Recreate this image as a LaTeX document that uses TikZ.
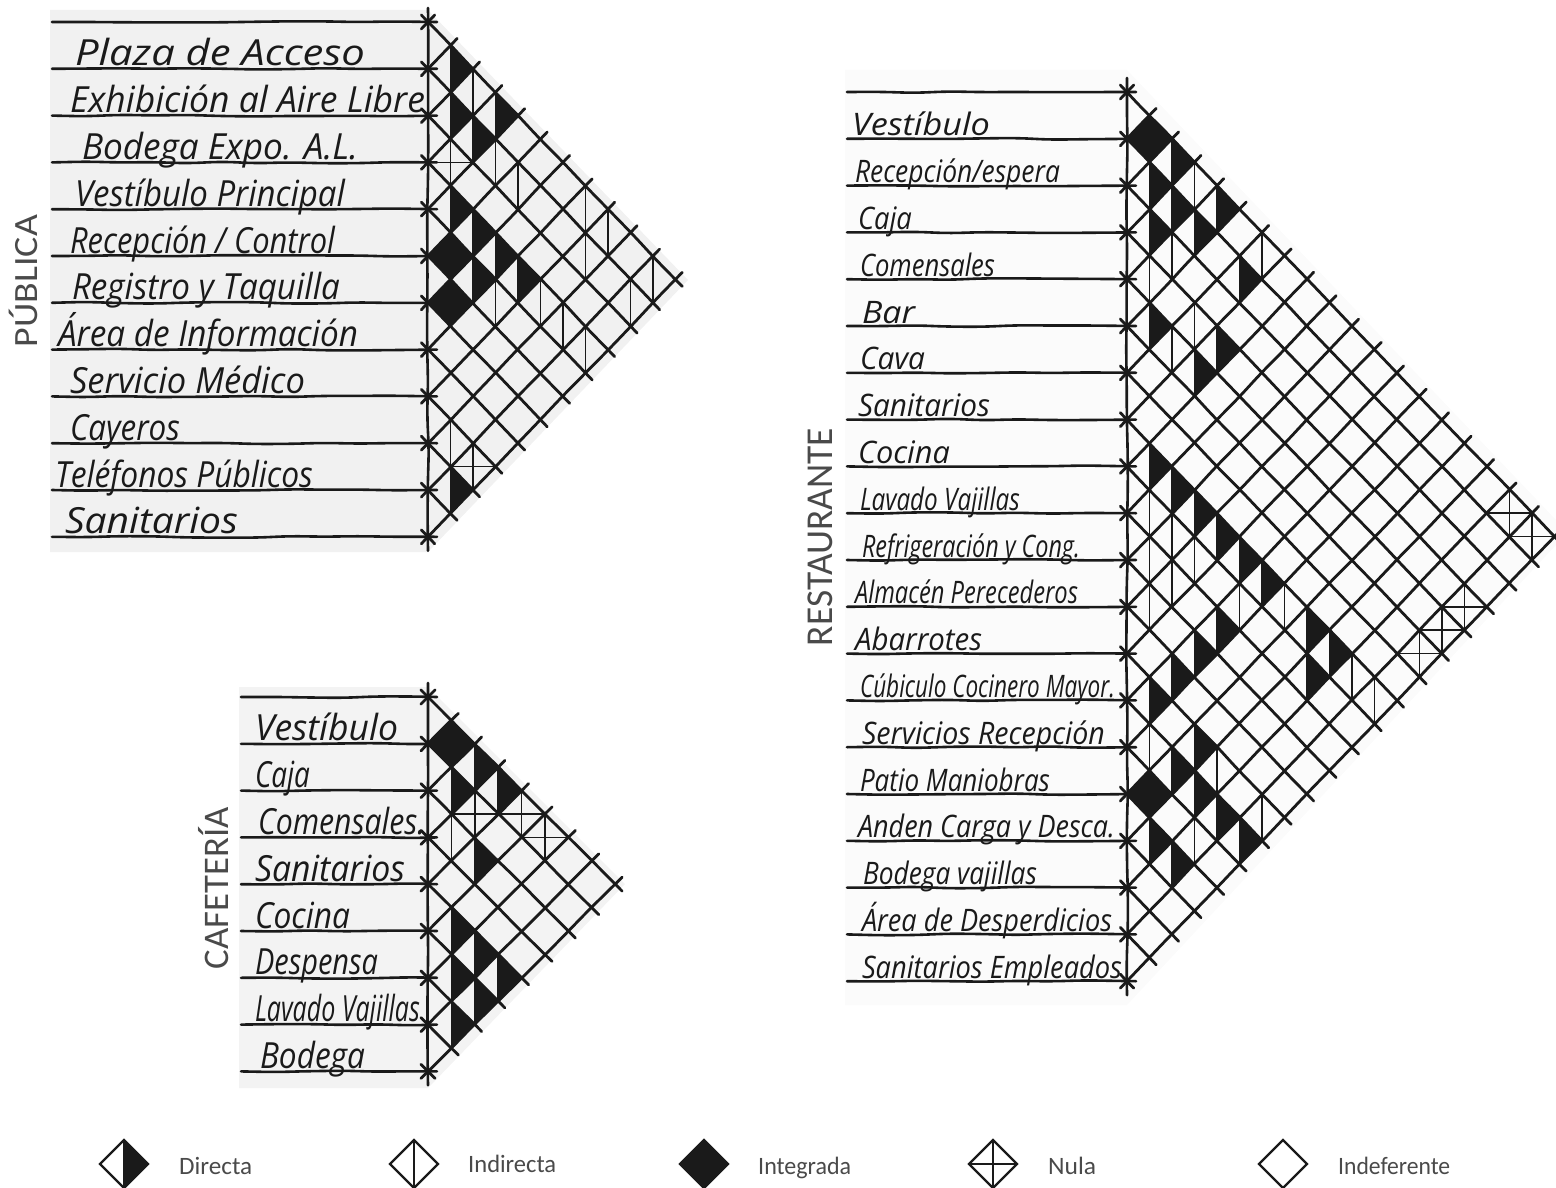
\documentclass[tikz,border=0pt]{standalone}
\usepackage{graphicx}
\usepackage{fontspec}
\usetikzlibrary{decorations.pathmorphing}
\setmainfont{Carlito}
\newfontfamily\hwfont{Open Sans}[ItalicFont=* Italic]
\definecolor{ink}{HTML}{1A1A1A}
\definecolor{sidegray}{HTML}{4A4A4A}
\definecolor{paperA}{HTML}{F1F1F1}
\definecolor{paperB}{HTML}{F3F3F3}
\definecolor{paperC}{HTML}{FBFBFB}
\tikzset{
  wob/.style={decorate,decoration={random steps,segment length=34pt,amplitude=#1},rounded corners=12pt},
  rowline/.style={draw=ink,line width=2.6pt,line cap=round,wob=0.9pt},
  gridline/.style={draw=ink,line width=2.8pt,line cap=round,wob=0.5pt},
  axisline/.style={draw=ink,line width=2.6pt,line cap=round,wob=0.9pt},
  cellline/.style={draw=ink,line width=1.5pt},
  hwtext/.style={inner sep=0pt,outer sep=0pt,anchor=base west,text=ink,font=\hwfont\itshape\fontsize{\hwsize}{\hwsize}\selectfont},
  sidelabel/.style={inner sep=0pt,outer sep=0pt,anchor=base,rotate=90,text=sidegray,font=\fontsize{#1}{#1}\selectfont},
  legendtext/.style={inner sep=0pt,anchor=base west,text=sidegray,font=\fontsize{25}{25}\selectfont},
  legendshape/.style={draw=ink,line width=2.2pt,line join=miter}
}
\def\setm#1#2#3#4{\def\mX{#1}\def\mY{#2}\def\mdx{#3}\def\mhh{#4}}
\newcommand{\cellpos}[2]{\pgfmathsetmacro\cx{\mX+(#2-#1)*\mdx}\pgfmathsetmacro\cy{\mY+(#1+#2-1)*\mhh}}
\newcommand{\cdirect}[2]{\cellpos{#1}{#2}
  \fill[ink] (\cx,\cy-\mhh) -- (\cx+\mdx,\cy) -- (\cx,\cy+\mhh) -- cycle;
  \draw[cellline] (\cx,\cy-\mhh) -- (\cx,\cy+\mhh);}
\newcommand{\cindirect}[2]{\cellpos{#1}{#2}
  \draw[cellline] (\cx,\cy-\mhh) -- (\cx,\cy+\mhh);}
\newcommand{\cintegrated}[2]{\cellpos{#1}{#2}
  \fill[ink] (\cx,\cy-\mhh) -- (\cx+\mdx,\cy) -- (\cx,\cy+\mhh) -- (\cx-\mdx,\cy) -- cycle;}
\newcommand{\cnula}[2]{\cellpos{#1}{#2}
  \draw[cellline] (\cx,\cy-\mhh) -- (\cx,\cy+\mhh);
  \draw[cellline] (\cx-\mdx,\cy) -- (\cx+\mdx,\cy);}
\newcommand{\gridframe}[2]{%
  \foreach \k in {0,...,#1}{
    \pgfmathsetmacro\yk{\mY+2*\k*\mhh}
    \pgfmathsetmacro\rd{#1-\k}
    \draw[rowline] (#2,\yk) -- (\mX+9,\yk);
    \draw[gridline] (\mX-0.3*\mdx,\yk-0.3*\mhh) -- (\mX+\rd*\mdx+0.3*\mdx,\yk+\rd*\mhh+0.3*\mhh);
    \draw[gridline] (\mX-0.3*\mdx,\yk+0.3*\mhh) -- (\mX+\k*\mdx+0.3*\mdx,\yk-\k*\mhh-0.3*\mhh);
  }
  \draw[axisline] (\mX,\mY-14) -- (\mX,\mY+2*#1*\mhh+14);
}
\newcommand{\hw}[5]{%
  \pgfmathsetmacro\by{\mY+2*#2*\mhh-3}
  \pgfmathsetmacro\labw{#4-#3}
  \node[hwtext] (#1) at (#3,\by) {\resizebox{\labw pt}{\height}{#5}};
}
\newcommand{\legenddiamond}[3]{%
  \coordinate (#1) at (#2,#3);
  \draw[legendshape] (#2-24,#3) -- (#2,#3-24) -- (#2+24,#3) -- (#2,#3+24) -- cycle;
}
\begin{document}
\begin{tikzpicture}[x=1pt,y=-1pt]
\pgfmathsetseed{11}
\useasboundingbox (0,0) rectangle (1556,1188);
% scanned paper
\fill[paperA] (50,10) -- (428,10) -- (688,280) -- (428,552) -- (50,552) -- cycle;
\fill[paperB] (239,687) -- (428,687) -- (625,884) -- (428,1088) -- (239,1088) -- cycle;
\fill[paperC] (845,70) -- (1127,70) -- (1556,520) -- (1556,545) -- (1127,1005) -- (845,1005) -- cycle;

% ---------- PUBLICA
\setm{428}{22}{22.5}{23.4}
\foreach \i/\j in {1/2,2/3,1/4,2/4,4/5,4/6,4/7,4/8,5/7,10/11} {\cdirect{\i}{\j}}
\foreach \i/\j in {1/3,2/5,2/6,1/8,2/9,1/9,1/11,2/11,5/8,4/9,4/10,4/11,9/10} {\cindirect{\i}{\j}}
\foreach \i/\j in {5/6,6/7} {\cintegrated{\i}{\j}}
\foreach \i/\j in {3/4,9/11} {\cnula{\i}{\j}}
\gridframe{11}{52}
\def\hwsize{36}
\hw{pa}{1}{75}{365}{Plaza de Acceso}
\hw{pb}{2}{70}{425}{Exhibición al Aire Libre}
\hw{pc}{3}{82}{358}{Bodega Expo. A.L.}
\hw{pd}{4}{75}{345}{Vestíbulo Principal}
\hw{pe}{5}{70}{335}{Recepción / Control}
\hw{pf}{6}{72}{340}{Registro y Taquilla}
\hw{pg}{7}{58}{358}{Área de Información}
\hw{ph}{8}{70}{305}{Servicio Médico}
\hw{pi}{9}{70}{180}{Cayeros}
\hw{pj}{10}{55}{313}{Teléfonos Públicos}
\hw{pk}{11}{65}{238}{Sanitarios}
\node[sidelabel=34] (publica) at (37.5,281) {\resizebox{132pt}{\height}{PÚBLICA}};

% ---------- CAFETERIA
\setm{428}{697}{23.4}{23.4}
\foreach \i/\j in {1/3,1/4,2/3,3/5,5/6,5/7,5/8,6/7,6/8,7/8} {\cdirect{\i}{\j}}
\foreach \i/\j in {3/4} {\cindirect{\i}{\j}}
\foreach \i/\j in {1/2} {\cintegrated{\i}{\j}}
\foreach \i/\j in {2/4,1/5,1/6} {\cnula{\i}{\j}}
\gridframe{8}{241}
\def\hwsize{36}
\hw{ca}{1}{255}{398}{Vestíbulo}
\hw{cb}{2}{255}{310}{Caja}
\hw{cc}{3}{258}{425}{Comensales.}
\hw{cd}{4}{255}{405}{Sanitarios}
\hw{ce}{5}{255}{350}{Cocina}
\hw{cf}{6}{255}{378}{Despensa}
\hw{cg}{7}{255}{420}{Lavado Vajillas}
\hw{ch}{8}{260}{365}{Bodega}
\node[sidelabel=36] (cafeteria) at (228,888) {\resizebox{162pt}{\height}{CAFETERÍA}};

% ---------- RESTAURANTE
\setm{1127}{92}{22.5}{23.4}
\foreach \i/\j in {1/3,1/5,2/3,2/4,2/5,3/4,2/7,5/6,4/8,5/8,
  8/9,8/10,8/11,8/12,8/13,8/14,10/14,11/14,12/14,13/14,8/16,8/17,9/17,
  13/16,14/16,14/17,14/18,14/19,16/17,16/18} {\cdirect{\i}{\j}}
\foreach \i/\j in {1/4,3/5,1/7,4/5,4/7,5/7,8/15,9/10,9/11,10/11,9/12,10/12,11/12,9/14,
  8/18,8/19,14/15,13/17,13/19,15/18} {\cindirect{\i}{\j}}
\foreach \i/\j in {1/2,15/16} {\cintegrated{\i}{\j}}
\foreach \i/\j in {4/19,5/19,6/19,1/18,1/19} {\cnula{\i}{\j}}
\gridframe{19}{847}
\def\hwsize{31}
\hw{ra}{1}{852}{990}{Vestíbulo}
\hw{rb}{2}{855}{1060}{Recepción/espera}
\hw{rc}{3}{858}{912}{Caja}
\hw{rd}{4}{860}{995}{Comensales}
\hw{re}{5}{862}{915}{Bar}
\hw{rf}{6}{860}{925}{Cava}
\hw{rg}{7}{858}{990}{Sanitarios}
\hw{rh}{8}{858}{950}{Cocina}
\hw{ri}{9}{860}{1020}{Lavado Vajillas}
\hw{rj}{10}{862}{1080}{Refrigeración y Cong.}
\hw{rk}{11}{855}{1078}{Almacén Perecederos}
\hw{rl}{12}{855}{982}{Abarrotes}
\hw{rm}{13}{860}{1115}{Cúbiculo Cocinero Mayor.}
\hw{rn}{14}{862}{1105}{Servicios Recepción}
\hw{ro}{15}{860}{1050}{Patio Maniobras}
\hw{rp}{16}{858}{1115}{Anden Carga y Desca.}
\hw{rq}{17}{863}{1037}{Bodega vajillas}
\hw{rr}{18}{862}{1112}{Área de Desperdicios}
\hw{rs}{19}{862}{1122}{Sanitarios Empleados}
\node[sidelabel=38] (restaurante) at (832,537) {\resizebox{218pt}{\height}{RESTAURANTE}};

% ---------- LEGEND
\fill[ink] (124,1140) -- (148,1164) -- (124,1188) -- cycle;
\legenddiamond{ld}{124}{1164}
\draw[cellline] (124,1140) -- (124,1188);
\node[legendtext] (ldt) at (179,1174) {\resizebox{73pt}{\height}{Directa}};
\legenddiamond{li}{414}{1164}
\draw[cellline] (414,1140) -- (414,1188);
\node[legendtext] (lit) at (468,1172) {\resizebox{88pt}{\height}{Indirecta}};
\fill[ink] (704,1140) -- (728,1164) -- (704,1188) -- (680,1164) -- cycle;
\legenddiamond{lg}{704}{1164}
\node[legendtext] (lgt) at (758,1174) {\resizebox{93pt}{\height}{Integrada}};
\legenddiamond{ln}{993}{1164}
\draw[cellline] (993,1140) -- (993,1188);
\draw[cellline] (969,1164) -- (1017,1164);
\node[legendtext] (lnt) at (1048,1174) {\resizebox{48pt}{\height}{Nula}};
\legenddiamond{lf}{1283}{1164}
\node[legendtext] (lft) at (1338,1174) {\resizebox{112pt}{\height}{Indeferente}};
\end{tikzpicture}
\end{document}
